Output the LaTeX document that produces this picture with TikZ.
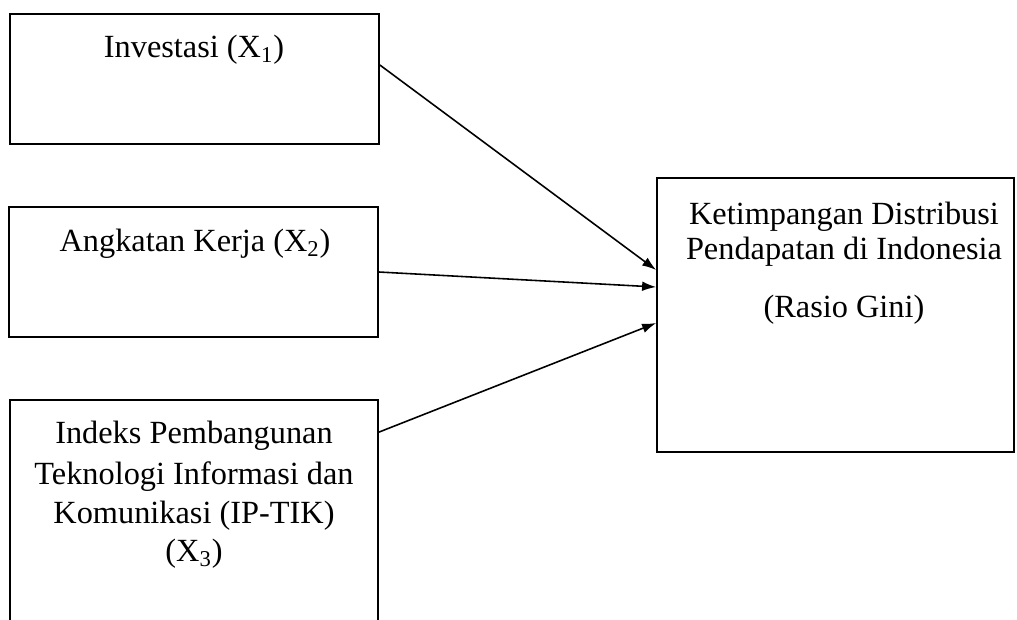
\documentclass[tikz,border=0pt]{standalone}
\usepackage{fontspec}
\setmainfont{Liberation Serif}
\usetikzlibrary{arrows.meta}

\tikzset{
  box/.style={draw, line width=1pt, inner sep=0pt},
  txt/.style={anchor=north, align=center, inner sep=0pt, font=\fontsize{18.4}{21.5}\selectfont},
  link/.style={->, line width=0.9pt}
}

\begin{document}
\begin{tikzpicture}[x=0.02cm, y=-0.02cm, >={Latex[length=8pt,width=5.5pt]}]
        \clip (0,0) rectangle (1017,619);
        % boxes
        \node[box, minimum width=7.38cm, minimum height=2.6cm] (inv) at (194.5,79) {};
        \node[box, minimum width=7.38cm, minimum height=2.6cm] (ak) at (193.5,272) {};
        \node[box, minimum width=7.36cm, minimum height=6cm] (ipt) at (194,550) {};
        \node[box, minimum width=7.14cm, minimum height=5.48cm] (gini) at (835.5,315) {};
        % texts
        \node[txt] (invtxt) at (194,35) {Investasi (X\textsubscript{1})};
        \node[txt] (aktxt) at (195,229) {Angkatan Kerja (X\textsubscript{2})};
        \node[txt] (ipttxt) at (194,421) {Indeks Pembangunan\\[1.5pt] Teknologi Informasi dan\\[1pt] Komunikasi (IP-TIK)\\ (X\textsubscript{3})};
        \node[txt] (ginitxt) at (844,202) {Ketimpangan Distribusi\\[-1.5pt] Pendapatan di Indonesia\\[11pt] (Rasio Gini)};
        % arrows
        \draw[link] ([yshift=0.28cm]inv.east) -- ([yshift=0.9cm]gini.west);
        \draw[link] (ak.east) -- ([yshift=0.56cm]gini.west);
        \draw[link] ([yshift=-0.66cm]ipt.north east) -- ([yshift=-0.16cm]gini.west);
    \end{tikzpicture}
\end{document}
